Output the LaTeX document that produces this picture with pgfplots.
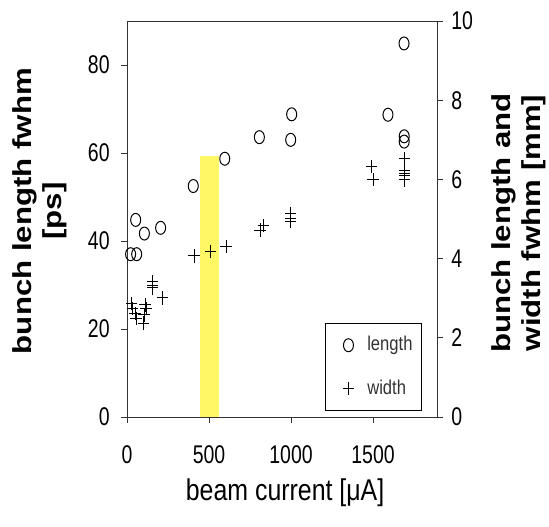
\documentclass[border=0pt]{standalone}
\usepackage{fontspec}
\setmainfont{Liberation Sans}
\newfontfamily\hfont[FakeStretch=0.83]{Liberation Sans}
\newfontfamily\tfont[FakeStretch=0.76]{Liberation Sans}
\newfontfamily\vfont[FakeStretch=1.2]{Liberation Sans}
\usepackage{pgfplots}
\pgfplotsset{compat=1.18}
\pgfplotstableread{
x y
22 37.0
59 37.0
53 44.8
106 41.7
205 43.0
404 52.5
596 58.7
807 63.6
1004 68.8
998 63.0
1591 68.7
1690 63.8
1690 62.6
1689 84.9
}\lengthdata
\pgfplotstableread{
x y
29 2.87
35 2.74
49 2.62
55 2.49
110 2.83
116 2.74
104 2.58
99 2.37
157 3.42
157 3.33
157 3.26
215 3.01
409 4.07
510 4.18
604 4.30
811 4.72
831 4.84
998 5.14
998 5.02
998 4.93
1490 6.32
1500 6.00
1693 6.52
1693 6.23
1693 6.16
1693 6.09
1693 5.99
}\widthdata
\begin{document}
\begin{tikzpicture}
\path[use as bounding box] (-63.5pt,-54.5pt) rectangle (211pt,208.5pt);
\pgfplotsset{
  common/.style={
    scale only axis, width=155pt, height=198pt,
    xmin=0, xmax=1890,
    tick align=outside, major tick length=3pt,
    axis line style={black!80, line width=0.5pt},
    every tick/.style={black!80, line width=0.5pt},
    /pgf/number format/assume math mode=true,
    /pgf/number format/1000 sep={},
    tick label style={font=\tfont\fontsize{12.8}{14}\selectfont, inner sep=0pt},
  },
  lenmark/.style={only marks, mark=o, mark size=2.5pt, mark options={yscale=1.3, line width=0.5pt, black}},
  widmark/.style={only marks, mark=+, mark size=2.8pt, mark options={yscale=1.2, line width=0.5pt, black}},
}
\begin{axis}[common,
  ymin=0, ymax=90,
  xtick={0,500,1000,1500}, ytick={0,20,40,60,80},
  xtick pos=left, ytick pos=left,
  xticklabel style={anchor=north, yshift=-11pt},
  yticklabel style={anchor=east, xshift=-5.5pt},
  xlabel={beam current [μA]},
  xlabel style={at={(axis description cs:0.51,-0.19)}, anchor=center, font=\hfont\fontsize{15}{17}\selectfont},
  ylabel={bunch length fwhm\\{[ps]}},
  ylabel style={at={(axis description cs:-0.2806,0.52)}, anchor=center, align=center, font=\vfont\bfseries\fontsize{13}{15}\selectfont},
  legend image code/.code={\draw[#1] plot coordinates {(0.3cm,0cm)}; \path (0cm,0cm) (0.55cm,0cm);},
  legend style={at={(0.952,0.015)}, anchor=south east, draw=black, line width=0.6pt,
    font=\hfont\fontsize{10}{12}\selectfont, row sep=9pt, inner xsep=2.5pt, inner ysep=4.5pt,
    nodes={text=black!80}},
  legend cell align=left,
]
\addplot[lenmark] table[x=x, y=y] {\lengthdata};
\addlegendentry{length}
\addlegendimage{widmark}
\addlegendentry{width}
\end{axis}
\begin{axis}[common,
  ymin=0, ymax=10,
  axis x line=none, axis y line*=right,
  ytick={0,2,4,6,8,10},
  yticklabel style={anchor=west, xshift=4pt},
  ylabel={bunch length and\\width fwhm {[mm]}},
  ylabel style={at={(axis description cs:1.2645,0.49)}, anchor=center, align=center, font=\vfont\bfseries\fontsize{13}{15}\selectfont},
]
\addplot[widmark] table[x=x, y=y] {\widthdata};
\addplot[fill=yellow, fill opacity=0.6, draw=none] coordinates {(445,6.6) (563,6.6)} \closedcycle;
\end{axis}
\end{tikzpicture}
\end{document}
